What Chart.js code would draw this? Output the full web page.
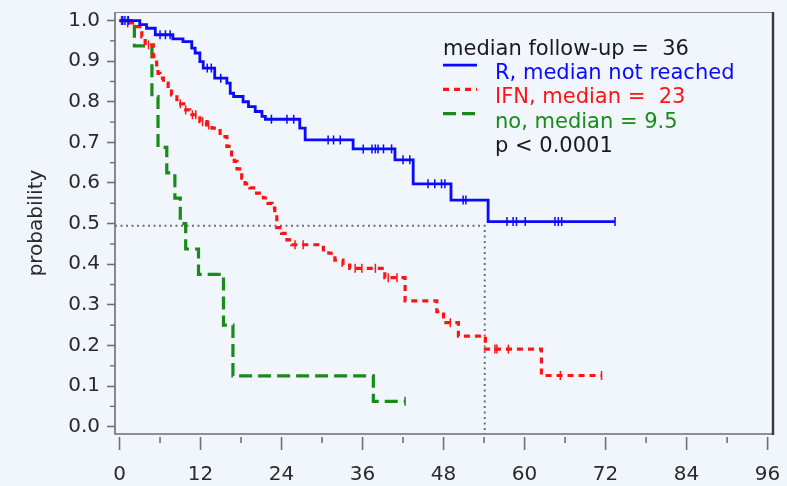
<!DOCTYPE html>
<html>
<head>
<meta charset="utf-8">
<script src="https://cdn.jsdelivr.net/npm/chart.js@4/dist/chart.umd.min.js"></script>
<style>
html,body{margin:0;padding:0;background:#f0f6fb;}
canvas{display:block;}
</style>
</head>
<body>
<canvas id="c" width="787" height="486"></canvas>
<script>
// ---- data ----
const xTicks = [0, 12, 24, 36, 48, 60, 72, 84, 96];
const xMinorTicks = [6, 18, 30, 42, 54, 66, 78, 90];
const yTicks = [0, 0.1, 0.2, 0.3, 0.4, 0.5, 0.6, 0.7, 0.8, 0.9, 1.0];
const yMinorTicks = [0.05, 0.15, 0.25, 0.35, 0.45, 0.55, 0.65, 0.75, 0.85, 0.95];

const rTime = [0, 3.0, 4.0, 5.3, 7.9, 9.4, 10.7, 11.2, 11.9, 12.4, 14.1, 15.9, 16.4, 16.9, 18.3, 19.1, 20.1, 21.1, 21.6, 26.7, 27.5, 34.6, 40.8, 43.5, 49.1, 54.6, 73.4];
const rSurv = [1, 0.99, 0.981, 0.965, 0.955, 0.948, 0.932, 0.92, 0.899, 0.883, 0.858, 0.846, 0.821, 0.813, 0.80, 0.788, 0.776, 0.764, 0.757, 0.735, 0.706, 0.684, 0.657, 0.598, 0.558, 0.505, 0.505];
const rCensor = [0.4, 0.8, 1.3, 6.0, 6.8, 7.5, 13.0, 13.6, 15.0, 22.5, 24.8, 25.8, 30.9, 31.7, 32.7, 36.1, 37.4, 37.9, 38.3, 39.1, 40.3, 42.0, 43.0, 45.7, 46.7, 47.7, 48.2, 50.9, 51.3, 57.4, 58.3, 58.8, 60.1, 64.5, 65.0, 65.5, 73.4];

const ifnTime = [0, 0.8, 2.3, 3.3, 3.8, 5.0, 5.5, 5.7, 6.0, 6.5, 7.2, 7.7, 8.5, 9.5, 10.4, 11.9, 12.9, 13.7, 14.9, 15.9, 16.6, 17.0, 17.4, 18.1, 18.6, 19.3, 20.3, 21.3, 22.0, 22.6, 23.0, 23.3, 24.0, 24.8, 25.5, 30.2, 31.0, 31.9, 33.1, 34.1, 39.3, 42.3, 47.0, 48.0, 50.2, 54.2, 62.5, 71.4];
const ifnSurv = [1, 0.994, 0.985, 0.96, 0.94, 0.911, 0.887, 0.87, 0.858, 0.846, 0.833, 0.817, 0.795, 0.78, 0.768, 0.751, 0.743, 0.735, 0.714, 0.69, 0.665, 0.653, 0.635, 0.612, 0.598, 0.588, 0.575, 0.563, 0.55, 0.538, 0.521, 0.49, 0.476, 0.46, 0.448, 0.435, 0.427, 0.41, 0.398, 0.39, 0.367, 0.31, 0.283, 0.256, 0.223, 0.191, 0.126, 0.126];
const ifnCensor = [0.3, 1.2, 4.3, 9.0, 9.8, 10.8, 11.3, 12.3, 13.2, 26.0, 27.2, 34.9, 35.9, 37.9, 39.8, 41.1, 49.0, 55.6, 55.9, 57.6, 65.3, 71.4];

const noTime = [0, 2.2, 4.8, 5.7, 7.0, 8.2, 9.0, 9.8, 11.7, 15.4, 16.8, 37.6, 42.3];
const noSurv = [1, 0.9375, 0.8125, 0.6875, 0.625, 0.5625, 0.5, 0.4375, 0.375, 0.25, 0.125, 0.0625, 0.0625];
const noCensor = [0.5, 1.2, 42.3];

const medianProb = 0.495;
const medianTime = 54.1;

const legendTitle = 'median follow-up =  36';
const seriesLabels = ['R, median not reached', 'IFN, median =  23', 'no, median = 9.5'];
const pText = 'p < 0.0001';
const yTitle = 'probability';

// ---- styles ----
const BG = '#f0f6fb';
const BLUE = '#0a0aff', RED = '#ff1414', GREEN = '#1a8a1a';
const FONT = "'DejaVu Sans', sans-serif";
const X_MIN = -0.67, X_MAX = 96.8, Y_MIN = -0.018, Y_MAX = 1.021;

function pts(t, s) { return t.map((v, i) => ({x: v, y: s[i]})); }
function survAt(t, s, x) { let v = s[0]; for (let i = 0; i < t.length; i++) { if (t[i] <= x) v = s[i]; } return v; }
function censorPts(c, t, s) { return c.map(x => ({x: x, y: survAt(t, s, x)})); }

const curve = (label, t, s, color, dash, width) => ({
  type: 'line', label, data: pts(t, s), stepped: true, borderColor: color,
  borderWidth: width, borderDash: dash, pointRadius: 0, fill: false, tension: 0
});
const marks = (label, c, t, s, color) => ({
  type: 'scatter', label, data: censorPts(c, t, s), showLine: false,
  pointStyle: 'line', rotation: 90, pointRadius: 4.5, borderColor: color, backgroundColor: color, pointBorderWidth: 1.5, borderWidth: 1.5
});

const bgPlugin = {
  id: 'bg',
  beforeDraw(chart) {
    const c = chart.ctx; c.save(); c.fillStyle = BG; c.fillRect(0, 0, chart.width, chart.height); c.restore();
  },
  beforeDatasetsDraw(chart) {
    const c = chart.ctx, a = chart.chartArea, xs = chart.scales.x, ys = chart.scales.y;
    c.save();
    // frame
    c.strokeStyle = '#8a8a8a'; c.lineWidth = 1.2;
    c.beginPath(); c.moveTo(a.left, a.top + 0.5); c.lineTo(a.right, a.top + 0.5); c.stroke();
    c.strokeStyle = '#6e6e6e'; c.lineWidth = 1.6;
    c.beginPath(); c.moveTo(a.left, a.top); c.lineTo(a.left, a.bottom); c.lineTo(a.right, a.bottom); c.stroke();
    c.strokeStyle = '#3a3a3a'; c.lineWidth = 2.4;
    c.beginPath(); c.moveTo(a.right, a.top); c.lineTo(a.right, a.bottom + 1); c.stroke();
    // minor y ticks
    c.strokeStyle = '#707070'; c.lineWidth = 1.4;
    yMinorTicks.forEach(v => { const y = ys.getPixelForValue(v); c.beginPath(); c.moveTo(a.left - 5, y); c.lineTo(a.left, y); c.stroke(); });
    // x ticks (with a small gap below the frame)
    c.lineWidth = 1.6;
    xTicks.forEach(v => { const x = xs.getPixelForValue(v); c.beginPath(); c.moveTo(x, a.bottom + 3); c.lineTo(x, a.bottom + 16); c.stroke(); });
    xMinorTicks.forEach(v => { const x = xs.getPixelForValue(v); c.beginPath(); c.moveTo(x, a.bottom + 3); c.lineTo(x, a.bottom + 9); c.stroke(); });
    c.restore();
  }
};

const legendPlugin = {
  id: 'kmLegend',
  afterDraw(chart) {
    const c = chart.ctx;
    c.save();
    c.font = '21px ' + FONT;
    c.textBaseline = 'alphabetic';
    c.textAlign = 'left';
    const lx = 443, tx = 495, base0 = 55, step = 24.2;
    c.fillStyle = '#1a1a1a';
    c.fillText(legendTitle, lx, base0);
    const cols = [BLUE, RED, GREEN];
    const dashes = [[], [6, 5], [13, 6]];
    const widths = [2.8, 3.2, 3.2];
    seriesLabels.forEach((s, i) => {
      const base = base0 + step * (i + 1);
      c.fillStyle = cols[i];
      c.fillText(s, tx, base);
      c.strokeStyle = cols[i]; c.lineWidth = widths[i]; c.setLineDash(dashes[i]);
      c.beginPath(); c.moveTo(lx, base - 14); c.lineTo(477, base - 14); c.stroke();
    });
    c.setLineDash([]);
    c.fillStyle = '#1a1a1a';
    c.fillText(pText, tx, base0 + step * 4);
    c.restore();
  }
};

new Chart(document.getElementById('c'), {
  type: 'line',
  data: {
    datasets: [
      marks('R censored', rCensor, rTime, rSurv, BLUE),
      curve('R', rTime, rSurv, BLUE, [], 2.8),
      marks('IFN censored', ifnCensor, ifnTime, ifnSurv, RED),
      curve('IFN', ifnTime, ifnSurv, RED, [6, 5], 3.2),
      marks('no censored', noCensor, noTime, noSurv, GREEN),
      curve('no', noTime, noSurv, GREEN, [13, 6], 3.2),
      {
        type: 'line', label: 'median', data: [{x: X_MIN, y: medianProb}, {x: medianTime, y: medianProb}, {x: medianTime, y: Y_MIN}],
        borderColor: '#707070', borderWidth: 2, borderDash: [2, 3.5], pointRadius: 0, fill: false
      }
    ]
  },
  options: {
    responsive: false,
    animation: false,
    devicePixelRatio: 1,
    layout: {padding: {top: 12, right: 14, left: 0, bottom: 0}},
    plugins: {legend: {display: false}, tooltip: {enabled: false}},
    scales: {
      x: {
        type: 'linear', min: X_MIN, max: X_MAX,
        afterBuildTicks: s => { s.ticks = xTicks.map(v => ({value: v})); },
        afterFit: s => { s.height = 52; s.paddingLeft = 0; s.paddingRight = 0; },
        border: {display: false},
        grid: {drawOnChartArea: false, drawTicks: true, tickLength: 16, tickColor: 'rgba(0,0,0,0)'},
        ticks: {color: '#2a2a2a', font: {family: FONT, size: 20}, padding: 13, maxRotation: 0, autoSkip: false}
      },
      y: {
        type: 'linear', min: Y_MIN, max: Y_MAX,
        afterBuildTicks: s => { s.ticks = yTicks.map(v => ({value: v})); },
        afterFit: s => { s.width = 115; s.paddingTop = 0; s.paddingBottom = 0; },
        border: {display: false},
        grid: {drawOnChartArea: false, drawTicks: true, tickLength: 8, tickColor: '#707070', tickWidth: 1.6},
        ticks: {color: '#2a2a2a', font: {family: FONT, size: 20}, padding: 7, autoSkip: false, callback: v => Number(v).toFixed(1)},
        title: {display: true, text: yTitle, color: '#2a2a2a', font: {family: FONT, size: 20}, padding: {top: 25, bottom: 0}}
      }
    }
  },
  plugins: [bgPlugin, legendPlugin]
});
</script>
</body>
</html>
